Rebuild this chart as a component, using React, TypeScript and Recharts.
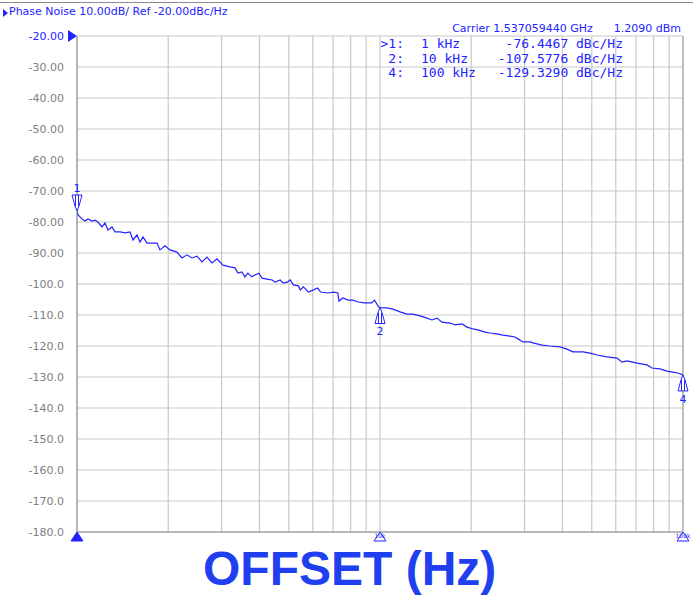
import React from 'react';
import { LineChart, Line, XAxis, YAxis, CartesianGrid, ReferenceDot, ReferenceLine } from 'recharts';

const offsetHz = [
  1000, 1008, 1039, 1063, 1087, 1121, 1147, 1173, 1209, 1237, 1266, 1305, 1335, 1387, 1440, 1496,
  1530, 1578, 1614, 1651, 1703, 1769, 1837, 1879, 1952, 2027, 2138, 2220, 2306, 2396, 2489, 2585,
  2685, 2789, 2897, 3033, 3201, 3324, 3398, 3503, 3583, 3665, 3776, 3864, 3985, 4078, 4239, 4405,
  4508, 4685, 4794, 4944, 5058, 5174, 5377, 5460, 5587, 5807, 6035, 6223, 6367, 6721, 7041, 7262,
  7318, 7548, 7845, 8153, 8474, 8881, 9379, 9595, 9898, 10000,
  10546, 11037, 11641, 12279, 12850, 13552, 14294, 14847, 15423, 16022, 17022, 17683, 18648, 19373,
  20275, 21061, 22213, 23067, 24325, 25460, 26853, 27895, 28539, 29648, 31261, 31990, 34250, 36400,
  39280, 41420, 43350, 46770, 49330, 52020, 56140, 60570, 62910, 65350, 70520, 76080, 79010, 83980,
  88560, 92690, 96270, 100000,
];
const phaseNoise = [
  -76.4, -77.7, -79.0, -79.7, -79.0, -79.7, -79.4, -80.0, -81.6, -80.3, -82.6, -81.6, -83.2, -83.2, -83.5, -83.2,
  -85.8, -84.2, -86.5, -84.8, -86.8, -86.8, -86.8, -89.0, -87.7, -89.0, -89.7, -91.6, -90.6, -91.6, -91.0, -92.9,
  -91.3, -93.2, -91.9, -93.9, -94.5, -94.8, -96.5, -96.1, -97.7, -96.5, -97.7, -97.1, -96.5, -98.1, -98.4, -98.7,
  -99.4, -98.7, -99.7, -99.4, -98.7, -100.3, -100.6, -101.9, -100.9, -102.6, -101.9, -101.3, -102.6, -102.9, -102.6, -102.9,
  -105.5, -104.5, -105.2, -105.2, -105.8, -106.1, -106.1, -105.2, -107.4, -107.6,
  -107.7, -108.1, -109.0, -109.7, -109.7, -110.3, -111.0, -111.6, -111.0, -112.3, -112.6, -113.2, -112.9, -113.9,
  -114.5, -114.8, -115.5, -115.8, -116.1, -116.5, -116.8, -117.1, -117.7, -118.7, -118.7, -119.0, -119.7, -120.0,
  -120.3, -121.0, -121.9, -121.9, -122.3, -122.9, -123.5, -123.9, -125.2, -124.8, -125.5, -126.1, -127.1, -127.4,
  -128.1, -128.4, -128.7, -129.3,
];

const yTicks = [-20, -30, -40, -50, -60, -70, -80, -90, -100, -110, -120, -130, -140, -150, -160, -170, -180];
const xTicks = [
  1000, 2000, 3000, 4000, 5000, 6000, 7000, 8000, 9000,
  10000, 20000, 30000, 40000, 50000, 60000, 70000, 80000, 90000, 100000,
];

const markerIds = ['1', '2', '4'];
const markerHz = [1000, 10000, 100000];
const markerDbc = [-76.4467, -107.5776, -129.329];
const markerRowLabels = ['>1:', '2:', '4:'];
const markerFreqLabels = ['1 kHz', '10 kHz', '100 kHz'];
const markerValueLabels = ['-76.4467 dBc/Hz', '-107.5776 dBc/Hz', '-129.3290 dBc/Hz'];

const bottomTickLabels = ['1k', '10k', '100k'];

const BLUE = '#2323ff';
const data = offsetHz.map((f, i) => ({ f, v: phaseNoise[i] }));

const fmtY = (v: number) => (v > -100 ? v.toFixed(2) : v.toFixed(1));

const YTick = (props: any) => {
  const { y, payload } = props;
  return (
    <text x={64} y={y + 4} textAnchor="end" fontSize={11} fontFamily="DejaVu Sans"
      fill={payload.value === -20 ? BLUE : '#808080'}>
      {fmtY(payload.value)}
    </text>
  );
};

const markerShape = (id: string, above: boolean) => (props: any) => {
  const { cx, cy } = props;
  const s = above ? -1 : 1;
  const top = cy + s * 16;
  return (
    <g stroke={BLUE} fill="none" strokeWidth={1}>
      <path d={`M${cx - 5} ${top} L${cx + 5} ${top} L${cx + 2} ${cy + s * 5} L${cx} ${cy} L${cx - 2} ${cy + s * 5} Z`} fill="#fff" />
      <line x1={cx - 1.5} y1={top} x2={cx - 1.5} y2={cy + s * 5} />
      <line x1={cx + 1.5} y1={top} x2={cx + 1.5} y2={cy + s * 5} />
      <text x={cx} y={above ? top - 3 : top + 12} textAnchor="middle" fontSize={11}
        fontFamily="DejaVu Sans" fill={BLUE} stroke="none">{id}</text>
    </g>
  );
};

const XTick = (props: any) => {
  const { x, y, payload } = props;
  const i = markerHz.indexOf(payload.value);
  if (i < 0) return <g />;
  const filled = i === 0;
  const b = y - 8; // sit the triangle right under the axis line
  return (
    <g>
      <path d={`M${x} ${b} L${x + 6} ${b + 9} L${x - 6} ${b + 9} Z`}
        fill={filled ? BLUE : '#fff'} stroke={BLUE} strokeWidth={1} />
      {!filled && (
        <text x={x} y={b + 6} textAnchor="middle" fontSize={6} fontFamily="DejaVu Sans" fill={BLUE}>
          {bottomTickLabels[i]}
        </text>
      )}
    </g>
  );
};

export default function App() {
  return (
    <div style={{ position: 'absolute', left: 0, top: 0, width: 693, height: 596, background: '#fff', overflow: 'hidden' }}>
      <div style={{ position: 'absolute', left: 0, top: 2, width: 693, height: 1, background: '#8a8a8a' }} />
      <div style={{ position: 'absolute', left: 3, top: 9, width: 0, height: 0, borderTop: '4px solid transparent',
        borderBottom: '4px solid transparent', borderLeft: `5px solid ${BLUE}` }} />
      <div style={{ position: 'absolute', left: 9, top: 5, fontFamily: 'DejaVu Sans', fontSize: 11, color: BLUE, whiteSpace: 'pre' }}>
        Phase Noise 10.00dB/ Ref -20.00dBc/Hz
      </div>
      <div style={{ position: 'absolute', right: 12, top: 22, fontFamily: 'DejaVu Sans', fontSize: 11, color: BLUE, whiteSpace: 'pre' }}>
        {'Carrier 1.537059440 GHz      1.2090 dBm'}
      </div>
      {/* reference level arrow */}
      <div style={{ position: 'absolute', left: 68, top: 30, width: 0, height: 0, borderTop: '6px solid transparent',
        borderBottom: '6px solid transparent', borderLeft: `9px solid ${BLUE}` }} />
      <LineChart width={693} height={596} data={data} margin={{ top: 36, right: 10, left: 0, bottom: 0 }}>
        <CartesianGrid stroke="#c8c8c8" strokeWidth={1.2} />
        <XAxis dataKey="f" type="number" scale="log" domain={[1000, 100000]} ticks={xTicks}
          allowDataOverflow height={64} axisLine={{ stroke: '#8c8c8c' }} tickLine={false} tick={<XTick />} interval={0} />
        <YAxis type="number" domain={[-180, -20]} ticks={yTicks} width={77} interval={0}
          axisLine={{ stroke: '#8c8c8c' }} tickLine={false} tick={<YTick />} />
        <ReferenceLine x={100000} stroke="#a0a0a0" />
        <Line type="linear" dataKey="v" stroke={BLUE} strokeWidth={1.2} dot={false} isAnimationActive={false} />
        {markerIds.map((id, i) => (
          <ReferenceDot key={id} x={markerHz[i]} y={markerDbc[i]} r={3}
            shape={markerShape(id, i === 0)} />
        ))}
      </LineChart>
      {markerRowLabels.map((lab, i) => (
        <div key={lab} style={{ position: 'absolute', top: 36 + i * 14.5, left: 380, width: 243, height: 15,
          fontFamily: 'DejaVu Sans Mono', fontSize: 13, lineHeight: '15px', color: BLUE, whiteSpace: 'pre' }}>
          <span style={{ position: 'absolute', left: 0, width: 24, textAlign: 'right' }}>{lab}</span>
          <span style={{ position: 'absolute', left: 41 }}>{markerFreqLabels[i]}</span>
          <span style={{ position: 'absolute', right: 0 }}>{markerValueLabels[i]}</span>
        </div>
      ))}
      <div style={{ position: 'absolute', left: 203, top: 545, fontFamily: 'Liberation Sans', fontWeight: 'bold',
        fontSize: 48, lineHeight: '48px', color: '#2040f0', whiteSpace: 'pre' }}>OFFSET (Hz)</div>
    </div>
  );
}
